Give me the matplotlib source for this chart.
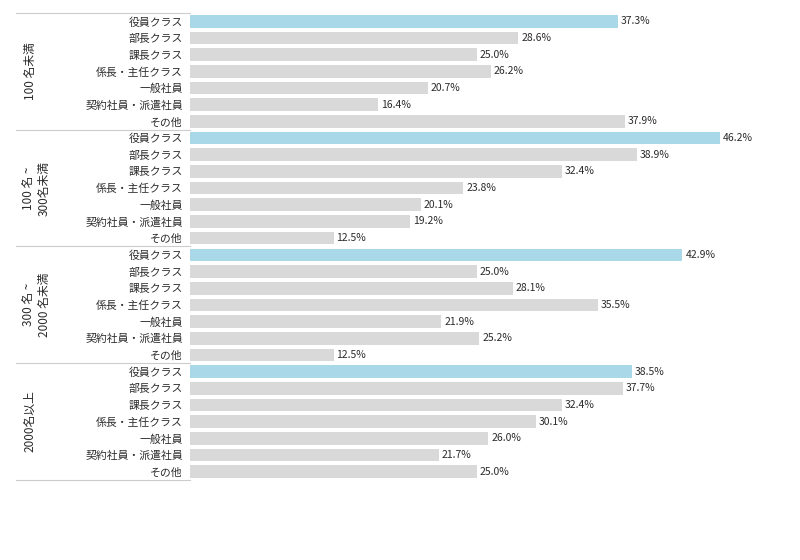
import matplotlib
matplotlib.use("Agg")
import matplotlib.pyplot as plt

plt.rcParams['font.family'] = ['Noto Sans CJK JP', 'DejaVu Sans']

groups = ["100 名未満", "100 名 ~\n300名未満", "300 名 ~\n2000 名未満", "2000名以上"]
categories = ["役員クラス", "部長クラス", "課長クラス", "係長・主任クラス", "一般社員", "契約社員・派遣社員", "その他"]
values_lt100 = [37.3, 28.6, 25.0, 26.2, 20.7, 16.4, 37.9]
values_100_300 = [46.2, 38.9, 32.4, 23.8, 20.1, 19.2, 12.5]
values_300_2000 = [42.9, 25.0, 28.1, 35.5, 21.9, 25.2, 12.5]
values_2000plus = [38.5, 37.7, 32.4, 30.1, 26.0, 21.7, 25.0]
all_values = [values_lt100, values_100_300, values_300_2000, values_2000plus]

BLUE = "#a9d9e9"
GRAY = "#d9d9d9"
TXT = "#2b2b2b"

W, H = 800, 560
fig = plt.figure(figsize=(8, 5.6), dpi=100)
top_px, bot_px = 13, 480
left_px, right_px = 190, 190 + 50 * 11.48
ax = fig.add_axes([left_px / W, 1 - bot_px / H, (right_px - left_px) / W, (bot_px - top_px) / H])

n = len(categories)
ys, vals, cols, labels = [], [], [], []
for gi, gv in enumerate(all_values):
    for ci, v in enumerate(gv):
        ys.append(gi * n + ci)
        vals.append(v)
        cols.append(BLUE if ci == 0 else GRAY)
        labels.append(categories[ci])

ax.barh(ys, vals, height=0.76, color=cols, left=0)
for y, v in zip(ys, vals):
    ax.text(v + 0.25, y, f"{v:.1f}%", va="center", ha="left", fontsize=7.5, color=TXT)

ax.set_xlim(0, 50)
ax.set_ylim(len(ys) - 0.5, -0.5)
ax.set_yticks(ys)
ax.set_yticklabels(labels, fontsize=7.8, color=TXT)
ax.tick_params(axis="y", length=0, pad=5)
ax.set_xticks([])
for s in ax.spines.values():
    s.set_visible(False)

# separator lines and group labels
row_px = (bot_px - top_px) / len(ys)
for gi in range(len(groups) + 1):
    ypx = top_px + gi * n * row_px
    fig.add_artist(plt.Line2D([16 / W, left_px / W], [1 - ypx / H, 1 - ypx / H],
                              color="#cccccc", lw=0.8, transform=fig.transFigure))
for gi, g in enumerate(groups):
    ymid = top_px + (gi + 0.5) * n * row_px
    nlines = g.count("\n") + 1
    xc = 30 if nlines == 1 else 36
    fig.text(xc / W, 1 - ymid / H, g, rotation=90, ha="center", va="center",
             fontsize=8.5, color=TXT, linespacing=1.3, multialignment="center")

fig.savefig("out.png", dpi=100)
